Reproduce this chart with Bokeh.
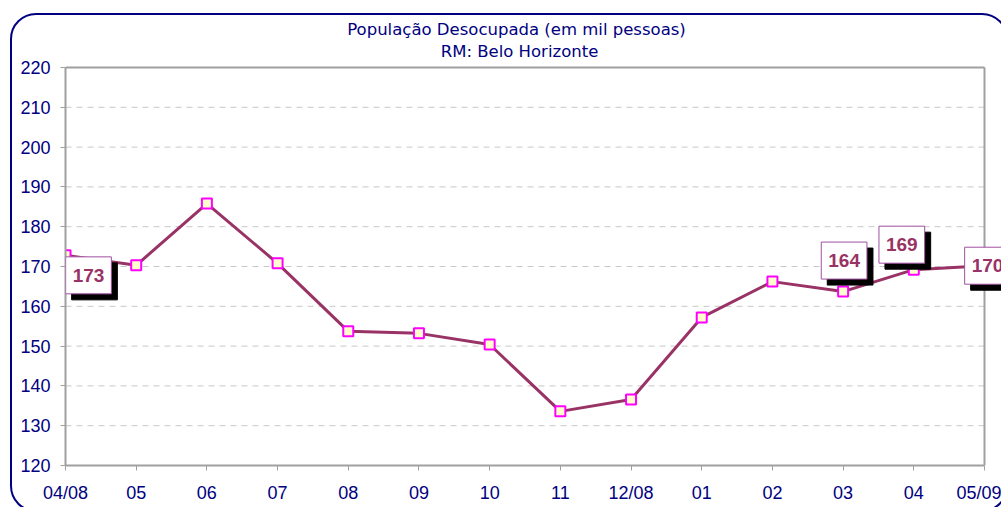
from bokeh.plotting import figure
from bokeh.models import Range1d, FixedTicker, Label, ColumnDataSource, InlineStyleSheet
from bokeh.embed import file_html
from bokeh.resources import INLINE

# ---- data ----
months = ["04/08", "05", "06", "07", "08", "09", "10", "11", "12/08",
          "01", "02", "03", "04", "05/09"]
values = [172.8, 170.3, 185.8, 170.8, 153.7, 153.2, 150.4, 133.6, 136.6,
          157.2, 166.2, 163.7, 169.2, 170.2]
labelled = [0, 11, 12, 13]
y_ticks = list(range(120, 221, 10))
title_1 = "População Desocupada (em mil pessoas)"
title_2 = "RM: Belo Horizonte"

# ---- styles / positions ----
label_offsets = {0: (23, -20), 11: (1, 31), 12: (-12, 25), 13: (3, 0)}
NAVY = "#000080"
LINE = "#993366"
GRAY = "#A0A0A0"
W, H = 1001, 507
LEFT, BOTTOM = 65, 42          # axis panels
PLOT_RIGHT_PX, PLOT_TOP_PX = 984, 67

n = len(months)
x = list(range(n))
ymin, ymax = y_ticks[0], y_ticks[-1]
# extend ranges so that the frame reaches the canvas edges (for the labels)
x_per_px = (n - 1) / (PLOT_RIGHT_PX - LEFT)
y_per_px = (ymax - ymin) / ((H - BOTTOM) - PLOT_TOP_PX)
x_end = (n - 1) + (W - PLOT_RIGHT_PX) * x_per_px
y_end = ymax + PLOT_TOP_PX * y_per_px

src = ColumnDataSource(dict(x=x, y=values))

p = figure(width=W, height=H, output_backend="svg", toolbar_location=None,
           x_range=Range1d(0, x_end), y_range=Range1d(ymin, y_end),
           min_border_left=LEFT, min_border_right=0, min_border_top=0,
           min_border_bottom=BOTTOM)
p.background_fill_color = "white"
p.border_fill_color = "white"
p.outline_line_color = None

# axes
p.xaxis.ticker = FixedTicker(ticks=x)
p.xaxis.major_label_overrides = {i: m for i, m in enumerate(months)}
p.xaxis.bounds = (0, n - 1)
p.yaxis.ticker = FixedTicker(ticks=y_ticks)
p.yaxis.bounds = (ymin, ymax)
for ax in (p.xaxis, p.yaxis):
    ax.axis_line_color = GRAY
    ax.axis_line_width = 2
    ax.major_tick_line_color = GRAY
    ax.major_tick_line_width = 1
    ax.major_tick_out = 5
    ax.major_tick_in = 0
    ax.minor_tick_line_color = None
    ax.major_label_text_color = NAVY
    ax.major_label_text_font = "Liberation Sans"
    ax.major_label_text_font_size = "18px"
p.xaxis.major_label_standoff = 12
p.yaxis.major_label_standoff = 10

p.xgrid.grid_line_color = None
p.ygrid.grid_line_color = None

# grid lines and plot-area border, limited to the plot area
inner = y_ticks[1:-1]
p.segment(x0=[0] * len(inner), x1=[n - 1] * len(inner), y0=inner, y1=inner,
          line_color="#C8C8C8", line_width=1, line_dash="6 5")
p.segment(x0=[0, n - 1], x1=[n - 1, n - 1], y0=[ymax, ymin], y1=[ymax, ymax],
          line_color=GRAY, line_width=2)

# series
p.line("x", "y", source=src, line_color=LINE, line_width=3)
p.scatter("x", "y", source=src, marker="square", size=10,
          fill_color="#FFFFCC", line_color="#FF00FF", line_width=2)

# data labels with shadow
pad = dict(left=7, right=7, top=12, bottom=12)
for i in labelled:
    dx, dy = label_offsets[i]
    txt = f"{round(values[i])}"
    shadow = Label(x=x[i], y=values[i], text=txt, x_offset=dx + 6, y_offset=dy - 6,
                   text_align="center", text_baseline="middle",
                   text_color="black", text_font="Liberation Sans",
                   text_font_style="bold", text_font_size="19px",
                   background_fill_color="black", border_line_color="black",
                   padding=pad)
    lab = Label(x=x[i], y=values[i], text=txt, x_offset=dx, y_offset=dy,
                text_align="center", text_baseline="middle",
                text_color=LINE, text_font="Liberation Sans",
                text_font_style="bold", text_font_size="19px",
                background_fill_color="white", border_line_color="#A050A0",
                border_line_width=1, padding=pad)
    p.add_layout(shadow)
    p.add_layout(lab)

# titles
for txt, xx, yy in ((title_1, 516, 29), (title_2, 519, 51)):
    p.add_layout(Label(x=xx, y=yy, x_units="canvas", y_units="canvas", text=txt,
                       text_align="center", text_baseline="middle",
                       text_color=NAVY, text_font="DejaVu Sans",
                       text_font_size="16.5px"))

# rounded chart frame (partly outside the window, as in the reference)
p.stylesheets = [InlineStyleSheet(css="""
:host { overflow: hidden; }
:host::after {
  content: ""; position: absolute; left: 10px; top: 13px;
  width: 998px; height: 499px; box-sizing: border-box;
  border: 2px solid #000080; border-radius: 26px; pointer-events: none;
}
""")]

open("out.html", "w").write(file_html(p, INLINE))
